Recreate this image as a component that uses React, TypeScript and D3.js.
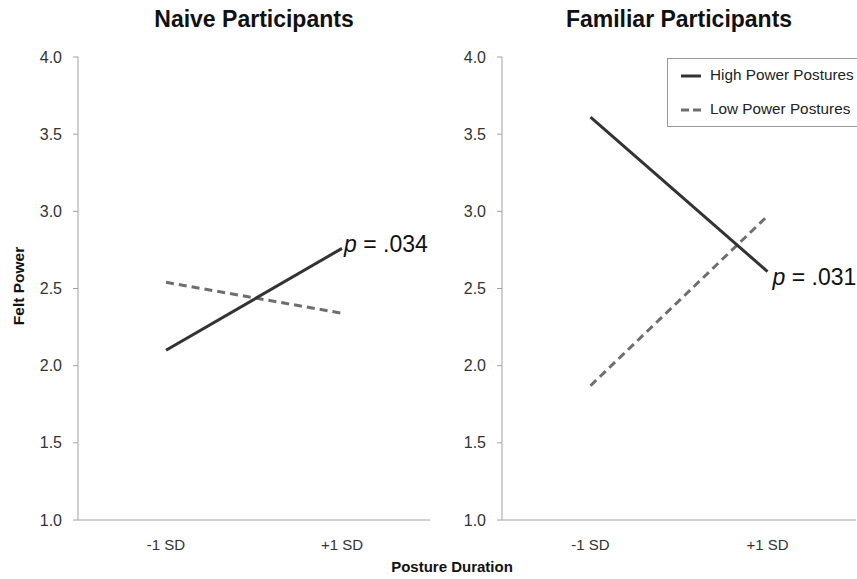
import React from "react";
import * as d3 from "d3";

const categories = ["-1 SD", "+1 SD"];
const yTicks = [1.0, 1.5, 2.0, 2.5, 3.0, 3.5, 4.0];
const naiveHigh = [2.1, 2.76];
const naiveLow = [2.54, 2.34];
const familiarHigh = [3.61, 2.61];
const familiarLow = [1.87, 2.97];
const panelTitles = ["Naive Participants", "Familiar Participants"];
const pLabels = [".034", ".031"];
const seriesNames = ["High Power Postures", "Low Power Postures"];

const W = 857, H = 579;
const top = 57, bottom = 520;
const FONT = "Liberation Sans, Arial, sans-serif";

function Panel({ x0, x1, title, high, low, pText, pDx, pDy }: any) {
  const x = d3.scaleBand().domain(categories).range([x0, x1]);
  const y = d3.scaleLinear().domain([1, 4]).range([bottom, top]);
  const cx = (c: string) => x(c)! + x.bandwidth() / 2;
  const line = d3.line<number>().x((_, i) => cx(categories[i])).y((d) => y(d));
  const px = cx(categories[1]);
  const py = y(high[1]);
  return (
    <g>
      <text x={(x0 + x1) / 2} y={27} textAnchor="middle" fontFamily={FONT} fontWeight="bold" fontSize={23} fill="#111">{title}</text>
      <line x1={x0} x2={x0} y1={top} y2={bottom} stroke="#a0a0a0" strokeWidth={1} />
      <line x1={x0} x2={x1} y1={bottom} y2={bottom} stroke="#a0a0a0" strokeWidth={1} />
      {yTicks.map((t) => (
        <g key={t}>
          <line x1={x0 - 5} x2={x0} y1={y(t)} y2={y(t)} stroke="#a0a0a0" />
          <text x={x0 - 16} y={y(t) + 5.5} textAnchor="end" fontFamily={FONT} fontSize={16} fill="#333">{t.toFixed(1)}</text>
        </g>
      ))}
      {categories.map((c) => (
        <text key={c} x={cx(c)} y={550} textAnchor="middle" fontFamily={FONT} fontSize={15} fill="#333">{c}</text>
      ))}
      <path d={line(low)!} fill="none" stroke="#6e6e6e" strokeWidth={3} strokeDasharray="8,5" />
      <path d={line(high)!} fill="none" stroke="#333" strokeWidth={3} />
      <text x={px + pDx} y={py + pDy} fontFamily={FONT} fontSize={23} fill="#111">
        <tspan fontStyle="italic">p</tspan> = {pText}
      </text>
    </g>
  );
}

export default function App() {
  return (
    <svg width={W} height={H} style={{ position: "absolute", left: 0, top: 0, background: "#fff" }}>
      <rect width={W} height={H} fill="#fff" />
      <Panel x0={78} x1={430} title={panelTitles[0]} high={naiveHigh} low={naiveLow} pText={pLabels[0]} pDx={2} pDy={4} />
      <Panel x0={502} x1={856} title={panelTitles[1]} high={familiarHigh} low={familiarLow} pText={pLabels[1]} pDx={5} pDy={13} />
      <text transform="translate(24,286) rotate(-90)" textAnchor="middle" fontFamily={FONT} fontWeight="bold" fontSize={15.5} fill="#111">Felt Power</text>
      <text x={452} y={572} textAnchor="middle" fontFamily={FONT} fontWeight="bold" fontSize={15} fill="#111">Posture Duration</text>
      <rect x={667.5} y={58.5} width={200} height={68} fill="#fff" stroke="#999" />
      <line x1={681} x2={701} y1={76} y2={76} stroke="#333" strokeWidth={3} />
      <text x={710} y={80} fontFamily={FONT} fontSize={15.3} fill="#222">{seriesNames[0]}</text>
      <line x1={681} x2={701} y1={110} y2={110} stroke="#6e6e6e" strokeWidth={3} strokeDasharray="8,4" />
      <text x={710} y={114} fontFamily={FONT} fontSize={15.3} fill="#222">{seriesNames[1]}</text>
    </svg>
  );
}
